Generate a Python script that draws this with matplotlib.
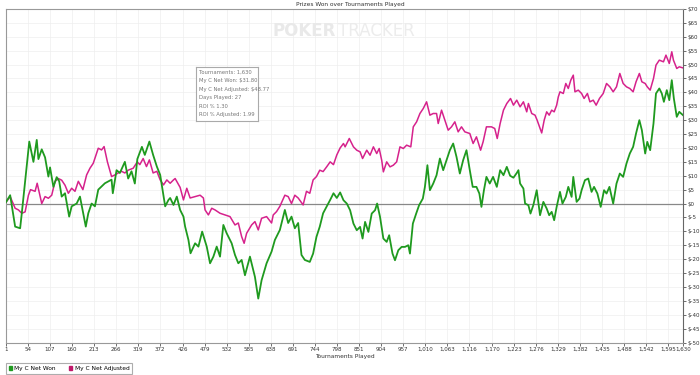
import matplotlib.pyplot as plt
from matplotlib.patches import Patch
from matplotlib.ticker import FuncFormatter

# values (tournament number, $)
won_t = [1, 11, 23, 35, 39, 57, 67, 75, 79, 87, 95, 103, 107, 115, 123, 129, 135, 143,
         153, 159, 171, 179, 193, 199, 207, 215, 223, 239, 255, 258, 267, 275, 287, 295,
         303, 311, 317, 328, 335, 346, 355, 364, 372, 384, 392, 396, 404, 412, 420, 428,
         432, 440, 445, 456, 464, 473, 484, 492, 500, 508, 516, 524, 532, 544, 552, 560,
         568, 576, 588, 600, 608, 616, 628, 640, 648, 660, 672, 680, 688, 696, 704, 712,
         720, 732, 740, 748, 756, 764, 773, 781, 789, 797, 805, 813, 821, 829, 837, 845,
         853, 859, 865, 873, 881, 889, 894, 901, 909, 917, 923, 931, 937, 945, 953, 961,
         969, 973, 980, 988, 995, 1004, 1009, 1015, 1021, 1029, 1037, 1045, 1053, 1061,
         1069, 1077, 1085, 1093, 1101, 1109, 1117, 1124, 1133, 1140, 1145, 1151, 1157,
         1165, 1173, 1182, 1190, 1198, 1206, 1214, 1222, 1230, 1234, 1238, 1246, 1250,
         1258, 1263, 1270, 1278, 1286, 1294, 1302, 1308, 1314, 1320, 1326, 1334, 1340,
         1348, 1354, 1362, 1366, 1374, 1381, 1386, 1394, 1402, 1410, 1416, 1424, 1432,
         1440, 1446, 1453, 1462, 1470, 1478, 1486, 1494, 1502, 1510, 1517, 1525, 1531,
         1539, 1544, 1551, 1559, 1565, 1573, 1579, 1584, 1591, 1597, 1603, 1608, 1615,
         1621, 1630]
won_v = [0.5, 3, -8.3, -8.9, -3.5, 22.3, 15, 22.9, 16, 19.5, 16.6, 9.7, 13, 6, 9.5, 8,
         2.5, 3.7, -4.7, -1, 0, 2.5, -8.3, -3.5, 0, -1, 5, 7.3, 8.6, 3.7, 12, 11, 15, 9,
         11.6, 7.2, 16, 20.4, 17.5, 22.3, 17.5, 13.3, 10.3, -1, 1.3, 2.0, -0.5, 2.5, -2.3,
         -4.7, -8.3, -13.1, -17.9, -14.3, -15.5, -10.1, -15.5, -21.5, -19.1, -15.5, -19.1,
         -7.7, -10.7, -14.3, -18.5, -21.5, -20.3, -25.8, -19.1, -26.4, -34.2, -27.6, -21.5,
         -17.3, -13.1, -9.5, -2.3, -7, -4.7, -8.9, -7, -18.5, -20.3, -21, -18, -12, -8.3,
         -3.5, -1, 1.3, 3.7, 2, 4, 1.2, 0, -2.4, -7.2, -9.6, -8.4, -12.6, -6.6, -10.2, -3.6,
         -2.4, 0, -4.8, -12.6, -13.8, -11.4, -18, -20.4, -16.8, -15.6, -15.6, -15, -18,
         -7.2, -3.6, -0.6, 1.8, 6, 13.8, 4.8, 7.2, 10.2, 16.2, 12, 15.6, 19.2, 21.6, 16.8,
         10.8, 15.6, 19.2, 12, 6, 6, 3.6, -1.2, 4.8, 9.6, 7.2, 9.6, 6, 12, 10.2, 13.2, 10,
         9.3, 11, 12, 7.2, 5.4, 0, -0.6, -3.6, -0.5, 4.8, -4.2, 0.6, -1.8, -4.2, -3, -6,
         -1.2, 4.2, 0, 2.4, 6, 2.4, 9.6, 0.6, 1.8, 4.8, 8.4, 9, 4.2, 6, 3.6, -1.2, 4.8, 3.6,
         6, 0, 7.2, 10.8, 9.6, 14.4, 18, 20.4, 25.2, 30, 26.4, 18, 22.2, 19.2, 28.8, 39.6,
         41.4, 39.6, 36.6, 40.8, 37.2, 44.4, 37.8, 31.2, 33, 31.8]

adj_t = [1, 11, 23, 31, 39, 47, 55, 60, 71, 76, 87, 95, 103, 111, 119, 127, 135, 143,
         151, 159, 167, 175, 186, 195, 203, 211, 223, 231, 237, 245, 255, 263, 271, 279,
         287, 295, 307, 317, 323, 331, 339, 346, 355, 364, 372, 380, 388, 396, 404, 408,
         420, 428, 436, 444, 456, 468, 476, 480, 488, 496, 504, 516, 528, 540, 552, 560,
         568, 574, 580, 592, 600, 608, 616, 628, 640, 644, 652, 660, 672, 680, 688, 696,
         704, 716, 724, 732, 740, 748, 756, 764, 773, 781, 789, 797, 805, 813, 817, 827,
         837, 845, 853, 859, 869, 877, 885, 893, 899, 905, 909, 917, 925, 933, 941, 949,
         957, 965, 975, 981, 989, 997, 1005, 1013, 1021, 1029, 1037, 1041, 1049, 1057,
         1065, 1073, 1081, 1089, 1097, 1105, 1117, 1125, 1133, 1143, 1149, 1157, 1169,
         1177, 1183, 1190, 1198, 1206, 1215, 1222, 1230, 1238, 1246, 1254, 1258, 1266,
         1274, 1279, 1286, 1290, 1296, 1302, 1308, 1314, 1320, 1326, 1330, 1334, 1342,
         1348, 1354, 1360, 1366, 1370, 1378, 1386, 1392, 1400, 1406, 1414, 1421, 1429,
         1438, 1446, 1454, 1462, 1470, 1478, 1486, 1494, 1502, 1510, 1517, 1525, 1531,
         1539, 1544, 1551, 1559, 1565, 1573, 1583, 1589, 1597, 1603, 1607, 1615, 1621,
         1630]
adj_v = [0.5, 2.5, -1.7, -2.3, -3.5, -3, 3, 5, 4.4, 7.3, 0, 2.5, 1.9, 3, 8, 9, 8.4, 6.6,
         3.7, 5.5, 4.4, 8, 5, 10.3, 12.7, 14.5, 19.9, 19.3, 20.5, 15, 9.7, 10.3, 11, 11.6,
         11, 12, 12.7, 15, 14, 16.2, 13.3, 15.7, 11, 11.6, 8.5, 6.7, 8.5, 7.3, 8.5, 9, 5.8,
         1.3, 5.5, 2, 2.5, 3, 2, -2.3, -4.1, -1.7, -2.3, -3.5, -4.1, -4.7, -7.7, -7, -11.9,
         -14.3, -10.7, -7.7, -6.5, -9.5, -5.3, -4.7, -7, -4.1, -2.9, -1, 3, 2.5, 0, 3, 2,
         -0.5, 4.4, 3.7, 8.5, 9.7, 12, 11.5, 13.3, 15, 14, 17.5, 20, 21.6, 20.4, 23.4, 20.4,
         19.2, 18.6, 16.2, 19.2, 17.4, 20.4, 18, 19.8, 15.6, 11.4, 15, 13.2, 13.8, 15, 20.4,
         19.8, 21, 20.4, 27.6, 29.4, 32.4, 34.2, 36.6, 31.8, 32.4, 32.4, 28.8, 33.6, 30,
         26.4, 27.6, 29.4, 25.8, 27.6, 25.8, 25.2, 21.6, 24, 19.2, 22.2, 27.6, 27.6, 27,
         23.4, 28.8, 33.6, 36, 37.8, 35.4, 37.2, 34.8, 36.6, 33, 36, 32.4, 31.8, 30, 27,
         25.4, 30, 33, 31.8, 33.6, 33, 35.4, 38.4, 40.2, 39.6, 43.2, 41.4, 44.4, 46.2, 40.2,
         40.8, 39.6, 37.8, 39.6, 36.6, 37.2, 35.4, 37.8, 39.6, 43.2, 42, 40.2, 42, 46.8,
         43.2, 42, 41.4, 40.2, 43.8, 46.8, 43.8, 43.2, 42, 40.8, 45, 49.8, 51.6, 51, 53.4,
         50.4, 54.6, 51.6, 48.6, 49.2, 48.8]

x_ticks = [1, 54, 107, 160, 213, 266, 319, 372, 426, 479, 532, 585, 638, 691, 744, 798,
           851, 904, 957, 1010, 1063, 1116, 1170, 1223, 1276, 1329, 1382, 1435, 1488,
           1542, 1595, 1630]
tooltip_lines = ["Tournaments: 1,630", "My C Net Won: $31.80", "My C Net Adjusted: $48.77",
                 "Days Played: 27", "ROI % 1.30", "ROI % Adjusted: 1.99"]

green = "#1f9a1f"
pink = "#d6228c"

fig = plt.figure(figsize=(7, 3.75), dpi=100)
ax = fig.add_axes([6 / 700, 1 - 342.5 / 375, 677 / 700, 333.5 / 375])

ax.plot(adj_t, adj_v, color=pink, lw=1.1, zorder=3)
ax.plot(won_t, won_v, color=green, lw=1.3, zorder=4)
ax.axhline(0, color="#888888", lw=0.9, zorder=2)

ax.set_xlim(1, 1630)
ax.set_ylim(-50, 70)
ax.set_xticks(x_ticks)
ax.xaxis.set_major_formatter(FuncFormatter(lambda v, p: f"{int(v):,}"))
ax.set_yticks(range(-50, 71, 5))
ax.yaxis.tick_right()
ax.yaxis.set_major_formatter(FuncFormatter(lambda v, p: f"${int(v)}"))
ax.tick_params(labelsize=4.0, colors="#333333", length=2, width=0.5, pad=1.2)
ax.grid(color="#eeeeee", lw=0.5)
ax.set_axisbelow(True)
for s in ax.spines.values():
    s.set_color("#999999")
    s.set_linewidth(0.8)
ax.spines["right"].set_color("#666666")

fig.text(0.5, 0.994, "Prizes Won over Tournaments Played", ha="center", va="top",
         fontsize=4.2, color="#333333")
fig.text(0.493, 1 - 356.5 / 375, "Tournaments Played", ha="center", va="center",
         fontsize=4.2, color="#333333")

# watermark
fig.text(336 / 700, 1 - 31 / 375, "POKER", fontsize=12, fontweight="bold", color="#e9e9e9",
         ha="right", va="center", zorder=1)
fig.text(338 / 700, 1 - 31 / 375, "TRACKER", fontsize=12, color="#ececec",
         ha="left", va="center", zorder=1)

# tooltip box
ax_tip = fig.add_axes([196 / 700, 1 - 121 / 375, 62 / 700, 54 / 375])
ax_tip.set_xticks([])
ax_tip.set_yticks([])
ax_tip.set_facecolor("white")
for s in ax_tip.spines.values():
    s.set_color("#aaaaaa")
    s.set_linewidth(0.8)
for i, line in enumerate(tooltip_lines):
    ax_tip.text(0.05, 0.9 - i * 0.156, line, transform=ax_tip.transAxes, fontsize=3.8,
                color="#777777", va="center", ha="left")

# legend
leg = ax.legend(handles=[Patch(color=green), Patch(color="#c0186a")],
                labels=["My C Net Won", "My C Net Adjusted"], loc="upper left",
                bbox_to_anchor=(3 / 700, 1 - 360.5 / 375), bbox_transform=fig.transFigure,
                ncol=2, fontsize=4.2, frameon=True, fancybox=False, edgecolor="#999999",
                handlelength=0.6, handleheight=0.6, handletextpad=0.4, columnspacing=2.2,
                borderpad=0.45)
leg.get_frame().set_linewidth(0.8)

fig.savefig("out.png", dpi=100)
